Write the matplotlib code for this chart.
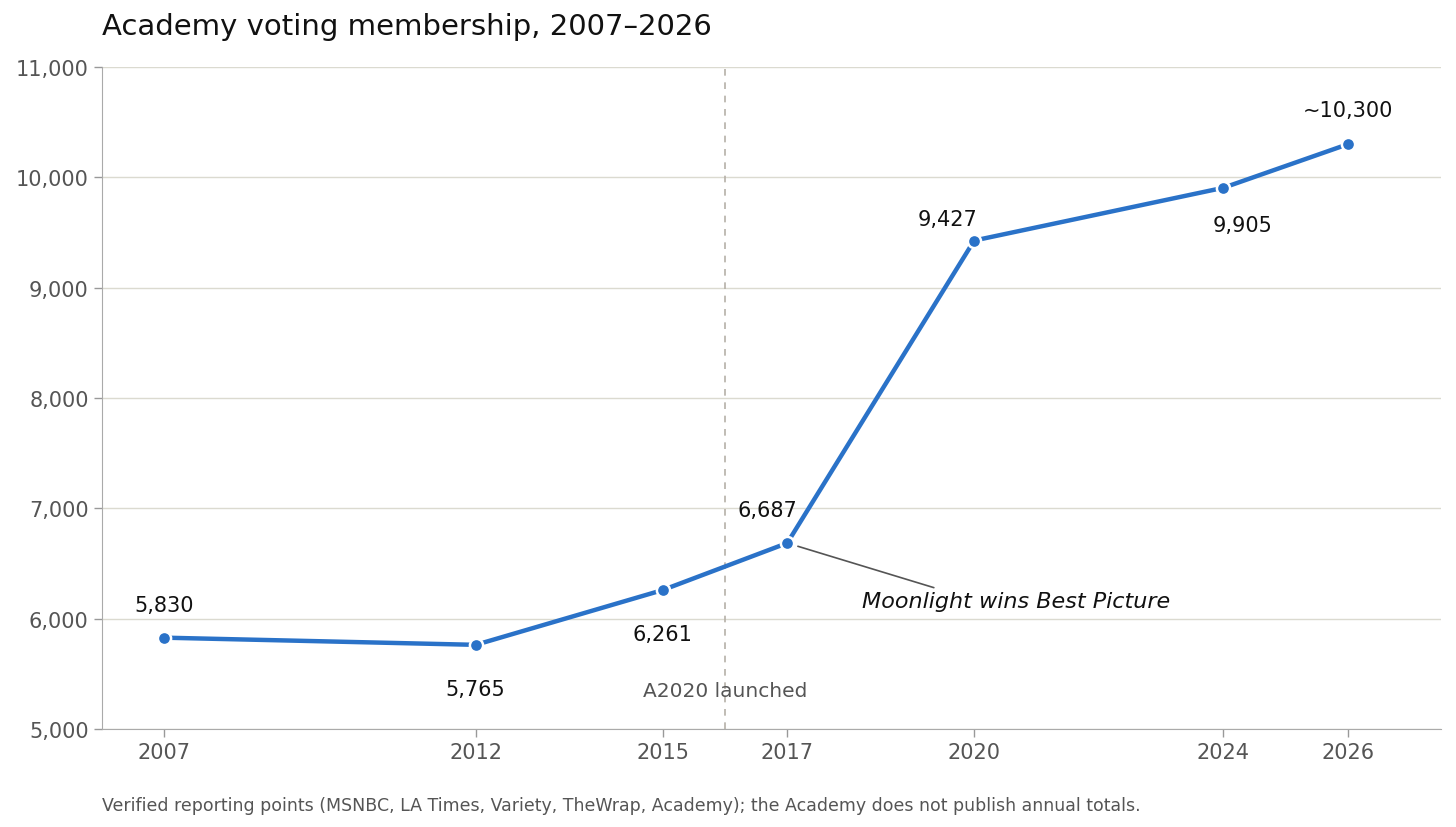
import matplotlib.pyplot as plt
from matplotlib.ticker import FuncFormatter

YEARS = [2007, 2012, 2015, 2017, 2020, 2024, 2026]
MEMBERS = [5830, 5765, 6261, 6687, 9427, 9905, 10300]
LABELS = ["5,830", "5,765", "6,261", "6,687", "9,427", "9,905", "~10,300"]
# pixel offsets for the value labels
OFFSETS = [(0, 33), (0, -44), (0, -44), (-20, 33), (-27, 22), (19, -37), (0, 34)]

A2020_YEAR = 2016
BLUE = "#2a72c8"
GRAY_TEXT = "#555555"


def main():
    fig = plt.figure(figsize=(14.56, 8.28), dpi=100)
    ax = fig.add_axes([0.070, 0.118, 0.920, 0.800])

    ax.plot(YEARS, MEMBERS, color=BLUE, lw=3.2, zorder=3,
            marker="o", ms=9.5, mfc=BLUE, mec="white", mew=1.8)

    for x, y, label, (dx, dy) in zip(YEARS, MEMBERS, LABELS, OFFSETS):
        ax.annotate(label, (x, y), xytext=(dx, dy), textcoords="offset pixels",
                    ha="center", va="center", fontsize=15, color="#111111")

    ax.axvline(A2020_YEAR, color="#b5b0a8", lw=1.2, ls=(0, (4, 4)), zorder=1)
    ax.text(A2020_YEAR, 5353, "A2020 launched", ha="center", va="center",
            fontsize=14.5, color=GRAY_TEXT)

    ax.annotate("Moonlight wins Best Picture", (2017, 6687), xytext=(2020.68, 6160),
                ha="center", va="center", fontsize=16, style="italic", color="#111111",
                arrowprops=dict(arrowstyle="-", color="#555555", lw=1.2,
                                relpos=(0.27, 1.0), shrinkA=2, shrinkB=8))

    ax.set_xlim(2006, 2027.5)
    ax.set_ylim(5000, 11000)
    ax.set_xticks(YEARS)
    ax.set_yticks(range(5000, 11001, 1000))
    ax.yaxis.set_major_formatter(FuncFormatter(lambda v, _: f"{int(v):,}"))
    ax.tick_params(colors="#999999", labelcolor=GRAY_TEXT, labelsize=15, length=6, width=1)
    ax.grid(axis="y", color="#dbdad0", lw=1)
    ax.set_axisbelow(True)

    for side in ["top", "right"]:
        ax.spines[side].set_visible(False)
    for side in ["left", "bottom"]:
        ax.spines[side].set_color("#aaaaaa")

    ax.set_title("Academy voting membership, 2007\u20132026", loc="left",
                 fontsize=21, pad=24, color="#111111")
    fig.text(0.070, 0.027, "Verified reporting points (MSNBC, LA Times, Variety, TheWrap, Academy); "
             "the Academy does not publish annual totals.",
             fontsize=12.5, color=GRAY_TEXT, ha="left", va="center")

    fig.savefig("out.png", dpi=100)


if __name__ == "__main__":
    main()
